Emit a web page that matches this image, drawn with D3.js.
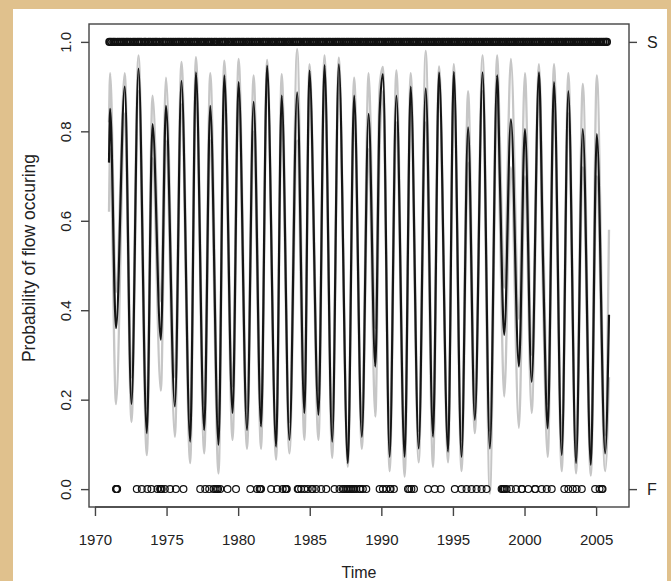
<!DOCTYPE html>
<html>
<head>
<meta charset="utf-8">
<script src="https://cdn.jsdelivr.net/npm/d3@7"></script>
<style>
  html, body { margin: 0; padding: 0; background: #e0c18d; }
  svg { display: block; }
  text { font-family: "Liberation Sans", Arial, sans-serif; fill: #222; }
</style>
</head>
<body>
<script>
const width = 671, height = 581;

// fitted probability: turning points of the seasonal curve (decimal years)
const fitTime = [1970.98, 1971.06, 1971.47, 1972.08, 1972.55, 1973.04, 1973.62, 1974.02, 1974.60, 1974.96, 1975.58,
  1976.04, 1976.65, 1977.05, 1977.63, 1978.05, 1978.63, 1979.03, 1979.61, 1980.03, 1980.62,
  1981.08, 1981.60, 1982.02, 1982.65, 1983.04, 1983.58, 1984.12, 1984.63, 1984.98, 1985.61,
  1986.03, 1986.57, 1987.03, 1987.66, 1988.10, 1988.64, 1989.11, 1989.58, 1989.88, 1990.11, 1990.58,
  1991.05, 1991.63, 1992.05, 1992.61, 1993.10, 1993.61, 1994.03, 1994.66, 1995.06, 1995.60,
  1996.06, 1996.53, 1997.07, 1997.58, 1998.09, 1998.28, 1998.58, 1999.05, 1999.61, 2000.03, 2000.50,
  2001.01, 2001.30, 2001.62, 2002.06, 2002.60, 2003.06, 2003.60, 2004.07, 2004.63, 2005.05, 2005.63, 2005.90];
const fitProb = [0.73, 0.85, 0.36, 0.90, 0.19, 0.94, 0.125, 0.816, 0.334, 0.857, 0.185,
  0.913, 0.106, 0.932, 0.132, 0.857, 0.099, 0.925, 0.17, 0.91, 0.132,
  0.866, 0.14, 0.947, 0.095, 0.88, 0.11, 0.887, 0.17, 0.936, 0.166,
  0.948, 0.106, 0.95, 0.058, 0.88, 0.117, 0.839, 0.274, 0.84, 0.928, 0.072,
  0.88, 0.072, 0.90, 0.091, 0.896, 0.117, 0.932, 0.084, 0.933, 0.072,
  0.809, 0.155, 0.932, 0.091, 0.925, 0.69, 0.345, 0.827, 0.274, 0.805, 0.24,
  0.932, 0.50, 0.136, 0.91, 0.076, 0.89, 0.058, 0.805, 0.054, 0.794, 0.08, 0.39];
const fitLower = [0.62, 0.76, 0.19, 0.84, 0.15, 0.89, 0.076, 0.74, 0.22, 0.78, 0.117,
  0.86, 0.058, 0.89, 0.08, 0.78, 0.035, 0.88, 0.11, 0.86, 0.09,
  0.80, 0.09, 0.92, 0.066, 0.82, 0.08, 0.78, 0.11, 0.90, 0.11,
  0.91, 0.07, 0.92, 0.05, 0.83, 0.09, 0.76, 0.162, 0.76, 0.89, 0.04,
  0.82, 0.028, 0.85, 0.06, 0.82, 0.05, 0.90, 0.06, 0.90, 0.04,
  0.73, 0.125, 0.89, -0.01, 0.87, 0.60, 0.207, 0.72, 0.137, 0.70, 0.17,
  0.89, 0.42, 0.072, 0.86, 0.04, 0.84, 0.035, 0.72, 0.03, 0.70, 0.04, 0.25];
const fitUpper = [0.82, 0.93, 0.44, 0.93, 0.25, 0.97, 0.18, 0.88, 0.42, 0.92, 0.25,
  0.955, 0.16, 0.966, 0.19, 0.93, 0.15, 0.958, 0.23, 0.962, 0.18,
  0.925, 0.19, 0.96, 0.13, 0.928, 0.15, 0.984, 0.23, 0.95, 0.22,
  0.97, 0.15, 0.965, 0.09, 0.92, 0.15, 0.93, 0.36, 0.90, 0.944, 0.11,
  0.936, 0.11, 0.93, 0.13, 0.98, 0.16, 0.945, 0.12, 0.95, 0.11,
  0.89, 0.20, 0.97, 0.13, 0.97, 0.78, 0.45, 0.962, 0.38, 0.93, 0.30,
  0.95, 0.58, 0.19, 0.95, 0.11, 0.93, 0.09, 0.906, 0.09, 0.925, 0.12, 0.58];

// observed flow (S, plotted at 1) and no-flow (F, plotted at 0) dates
const sTimes = [1971.00, 1971.12, 1971.27, 1971.40, 1971.58, 1971.73, 1971.88,
  1972.02, 1972.18, 1972.31, 1972.47, 1972.66, 1972.80, 1972.96,
  1973.10, 1973.24, 1973.43, 1973.55, 1973.74, 1973.88,
  1974.05, 1974.20, 1974.33, 1974.50, 1974.70, 1974.83, 1974.97,
  1975.14, 1975.30, 1975.46, 1975.62, 1975.78, 1975.92,
  1976.08, 1976.25, 1976.39, 1976.57, 1976.72, 1976.90,
  1977.04, 1977.19, 1977.37, 1977.52, 1977.68, 1977.85,
  1978.00, 1978.16, 1978.34, 1978.49, 1978.68, 1978.84,
  1979.00, 1979.13, 1979.31, 1979.47, 1979.64, 1979.80, 1979.95,
  1980.10, 1980.26, 1980.40, 1980.58, 1980.73, 1980.90,
  1981.04, 1981.21, 1981.37, 1981.52, 1981.70, 1981.84,
  1982.00, 1982.15, 1982.33, 1982.48, 1982.64, 1982.82, 1982.95,
  1983.12, 1983.27, 1983.45, 1983.60, 1983.77, 1983.92,
  1984.06, 1984.22, 1984.36, 1984.55, 1984.70, 1984.86,
  1985.02, 1985.18, 1985.33, 1985.50, 1985.66, 1985.83, 1985.97,
  1986.14, 1986.30, 1986.44, 1986.62, 1986.78, 1986.93,
  1987.08, 1987.25, 1987.40, 1987.57, 1987.72, 1987.88,
  1988.03, 1988.20, 1988.35, 1988.52, 1988.67, 1988.85,
  1989.00, 1989.16, 1989.31, 1989.48, 1989.63, 1989.80, 1989.94,
  1990.10, 1990.26, 1990.42, 1990.57, 1990.74, 1990.90,
  1991.05, 1991.22, 1991.37, 1991.54, 1991.70, 1991.85,
  1992.00, 1992.17, 1992.33, 1992.48, 1992.65, 1992.80, 1992.96,
  1993.12, 1993.27, 1993.44, 1993.60, 1993.75, 1993.92,
  1994.07, 1994.24, 1994.39, 1994.56, 1994.71, 1994.88,
  1995.03, 1995.20, 1995.35, 1995.52, 1995.68, 1995.84, 1995.98,
  1996.15, 1996.30, 1996.47, 1996.62, 1996.79, 1996.94,
  1997.10, 1997.26, 1997.41, 1997.58, 1997.74, 1997.90,
  1998.05, 1998.22, 1998.37, 1998.54, 1998.70, 1998.86,
  1999.01, 1999.18, 1999.33, 1999.50, 1999.66, 1999.82, 1999.96,
  2000.12, 2000.28, 2000.45, 2000.60, 2000.76, 2000.92,
  2001.07, 2001.24, 2001.39, 2001.56, 2001.72, 2001.88,
  2002.03, 2002.20, 2002.35, 2002.52, 2002.67, 2002.84, 2002.98,
  2003.14, 2003.30, 2003.46, 2003.62, 2003.78, 2003.94,
  2004.09, 2004.26, 2004.41, 2004.58, 2004.73, 2004.90,
  2005.05, 2005.22, 2005.37, 2005.52, 2005.66, 2005.76];
const fTimes = [1971.47, 1971.50, 1971.52, 1971.55, 1972.92, 1973.27, 1973.66, 1973.94, 1974.36, 1974.55,
  1974.60, 1974.66, 1974.88, 1975.25, 1975.65, 1976.18, 1977.35, 1977.70, 1977.98, 1978.28,
  1978.42, 1978.52, 1978.60, 1978.75, 1979.26, 1979.85, 1980.85, 1981.32, 1981.50, 1981.55,
  1981.60, 1982.30, 1982.72, 1983.11, 1983.30, 1983.35, 1983.40, 1984.16, 1984.22, 1984.40,
  1984.63, 1984.86, 1985.14, 1985.20, 1985.45, 1985.80, 1986.15, 1986.73, 1987.08, 1987.31,
  1987.40, 1987.55, 1987.65, 1987.78, 1987.90, 1988.01, 1988.12, 1988.25, 1988.48, 1988.55,
  1988.71, 1988.95, 1989.88, 1990.11, 1990.35, 1990.60, 1990.65, 1990.88, 1991.86, 1991.95,
  1992.10, 1992.28, 1993.26, 1993.73, 1994.15, 1995.13, 1995.60, 1995.95, 1996.30, 1996.65,
  1997.00, 1997.35, 1998.40, 1998.48, 1998.56, 1998.62, 1998.75, 1999.05, 1999.40, 1999.80,
  1999.83, 2000.26, 2000.73, 2000.76, 2001.20, 2001.55, 2001.90, 2002.78, 2003.06, 2003.37,
  2003.64, 2004.00, 2004.93, 2005.24, 2005.40, 2005.45];

const yTicks = [0, 0.2, 0.4, 0.6, 0.8, 1.0];
const xTicks = [1970, 1975, 1980, 1985, 1990, 1995, 2000, 2005];
const sideLabels = [{v: 1, t: "S"}, {v: 0, t: "F"}];

const box = {left: 89, right: 629, top: 24, bottom: 507};

const svg = d3.select("body").append("svg").attr("width", width).attr("height", height);
svg.append("rect").attr("x", 13).attr("y", 9).attr("width", 654).attr("height", height - 9).attr("fill", "#ffffff");

// R style 4% padding on both axes
const xExt = d3.extent(fitTime), xPad = (xExt[1] - xExt[0]) * 0.04;
const x = d3.scaleLinear().domain([xExt[0] - xPad, xExt[1] + xPad]).range([box.left, box.right]);
const y = d3.scaleLinear().domain([-0.04, 1.04]).range([box.bottom, box.top]);

const fit = fitTime.map((t, i) => ({t: t, p: fitProb[i], lo: fitLower[i], hi: fitUpper[i]}));
const line = key => d3.line().x(d => x(d.t)).y(d => y(d[key])).curve(d3.curveMonotoneX);

svg.append("path").datum(fit).attr("d", line("hi"))
  .attr("fill", "none").attr("stroke", "#c6c6c6").attr("stroke-width", 2.3);
svg.append("path").datum(fit).attr("d", line("lo"))
  .attr("fill", "none").attr("stroke", "#c6c6c6").attr("stroke-width", 2.3);
svg.append("path").datum(fit).attr("d", line("p"))
  .attr("fill", "none").attr("stroke", "#151515").attr("stroke-width", 2.2).attr("stroke-linejoin", "round");

svg.selectAll("circle.s").data(sTimes).enter().append("circle")
  .attr("class", "s").attr("cx", d => x(d)).attr("cy", y(1)).attr("r", 3.2)
  .attr("fill", "none").attr("stroke", "#111").attr("stroke-width", 1.7);
svg.selectAll("circle.f").data(fTimes).enter().append("circle")
  .attr("class", "f").attr("cx", d => x(d)).attr("cy", y(0)).attr("r", 3.4)
  .attr("fill", "none").attr("stroke", "#111").attr("stroke-width", 1.2);

svg.append("rect")
  .attr("x", box.left).attr("y", box.top)
  .attr("width", box.right - box.left).attr("height", box.bottom - box.top)
  .attr("fill", "none").attr("stroke", "#444").attr("stroke-width", 1.4);

// axes
const xAxis = svg.append("g").attr("transform", `translate(0,${box.bottom})`)
  .call(d3.axisBottom(x).tickValues(xTicks).tickFormat(d3.format("d")).tickSize(9).tickPadding(18));
const yAxis = svg.append("g").attr("transform", `translate(${box.left},0)`)
  .call(d3.axisLeft(y).tickValues(yTicks).tickFormat(d3.format(".1f")).tickSize(8));
const rAxis = svg.append("g").attr("transform", `translate(${box.right},0)`)
  .call(d3.axisRight(y).tickValues(sideLabels.map(d => d.v))
    .tickFormat(v => sideLabels.find(d => d.v === v).t).tickSize(8).tickPadding(10));

[xAxis, yAxis, rAxis].forEach(g => {
  g.select(".domain").remove();
  g.selectAll(".tick line").attr("stroke", "#444").attr("stroke-width", 1.4);
  g.selectAll(".tick text").attr("font-size", 15).style("fill", "#222");
});
xAxis.append("line").attr("x1", x(1970)).attr("x2", x(2005)).attr("stroke", "#444").attr("stroke-width", 1.4);
yAxis.selectAll(".tick text")
  .attr("x", 0).attr("dy", 0).attr("y", -18)
  .attr("text-anchor", "middle")
  .attr("transform", "rotate(-90)");
rAxis.selectAll(".tick text").attr("font-size", 16);

svg.append("text")
  .attr("transform", "translate(35,258) rotate(-90)")
  .attr("text-anchor", "middle").attr("font-size", 17.5)
  .text("Probability of flow occuring");
svg.append("text")
  .attr("x", (box.left + box.right) / 2).attr("y", 578)
  .attr("text-anchor", "middle").attr("font-size", 16)
  .text("Time");
</script>
</body>
</html>
